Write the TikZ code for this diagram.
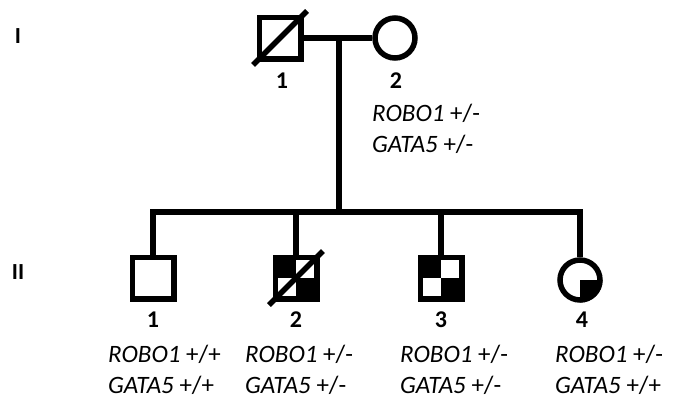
\documentclass[tikz,border=0pt]{standalone}
\usepackage{fontspec}
\setmainfont{Carlito}

\begin{document}
\begin{tikzpicture}[
    x=1pt, y=-1pt,
    male/.style={rectangle, draw, line width=5.5pt, minimum size=41.5pt, inner sep=0pt},
    female/.style={circle, draw, line width=5.5pt, minimum size=40pt, inner sep=0pt},
    link/.style={line width=5.5pt},
    slash/.style={line width=5.5pt},
    num/.style={font=\fontsize{24}{24}\selectfont\bfseries, inner sep=0pt},
    geno/.style={font=\fontsize{25}{31}\selectfont, align=left, anchor=west, inner sep=0pt},
    level/.style={font=\fontsize{23}{23}\selectfont\bfseries, inner sep=0pt}
]
\useasboundingbox (0,0) rectangle (679,405);

\node[level] (genI) at (18,36) {I};
\node[level] (genII) at (18,272) {II};

\node[male] (p1) at (280,38) {};
\node[female] (p2) at (395,38) {};
\node[num] (n1) at (282,81) {1};
\node[num] (n2) at (396,81) {2};
\node[geno] (g2) at (372,129) {\textit{ROBO1} +/-\\\textit{GATA5} +/-};

\node[male] (c1) at (153,278) {};
\node[male] (c2) at (296,278) {};
\node[male] (c3) at (441,278) {};
\node[female] (c4) at (580,280) {};

\fill (c2.center) rectangle (c2.north west);
\fill (c2.center) rectangle (c2.south east);
\fill (c3.center) rectangle (c3.north west);
\fill (c3.center) rectangle (c3.south east);
\begin{scope}
  \clip (c4.center) rectangle ++(30,30);
  \fill (c4.center) circle[radius=22.5pt];
\end{scope}

\draw[slash, shift={(p1.center)}] (-27,27) -- (27,-27);
\draw[slash, shift={(c2.center)}] (-27,27) -- (27,-27);

\node[num] (m1) at (153,320) {1};
\node[num] (m2) at (296,320) {2};
\node[num] (m3) at (441,320) {3};
\node[num] (m4) at (582,320) {4};

\node[geno] (h1) at (108,370) {\textit{ROBO1} +/+\\\textit{GATA5} +/+};
\node[geno] (h2) at (245,370) {\textit{ROBO1} +/-\\\textit{GATA5} +/-};
\node[geno] (h3) at (400,370) {\textit{ROBO1} +/-\\\textit{GATA5} +/-};
\node[geno] (h4) at (555,370) {\textit{ROBO1} +/-\\\textit{GATA5} +/+};

\coordinate (mate) at (339,38);
\coordinate (sib) at (339,212);

\draw[link] (p1) -- (p2);
\draw[link] (mate) -- (sib);
\draw[link] (c1.north) |- (sib) -| (c4.north);
\draw[link] (c2.north) -- (c2.north |- sib);
\draw[link] (c3.north) -- (c3.north |- sib);

\end{tikzpicture}
\end{document}
